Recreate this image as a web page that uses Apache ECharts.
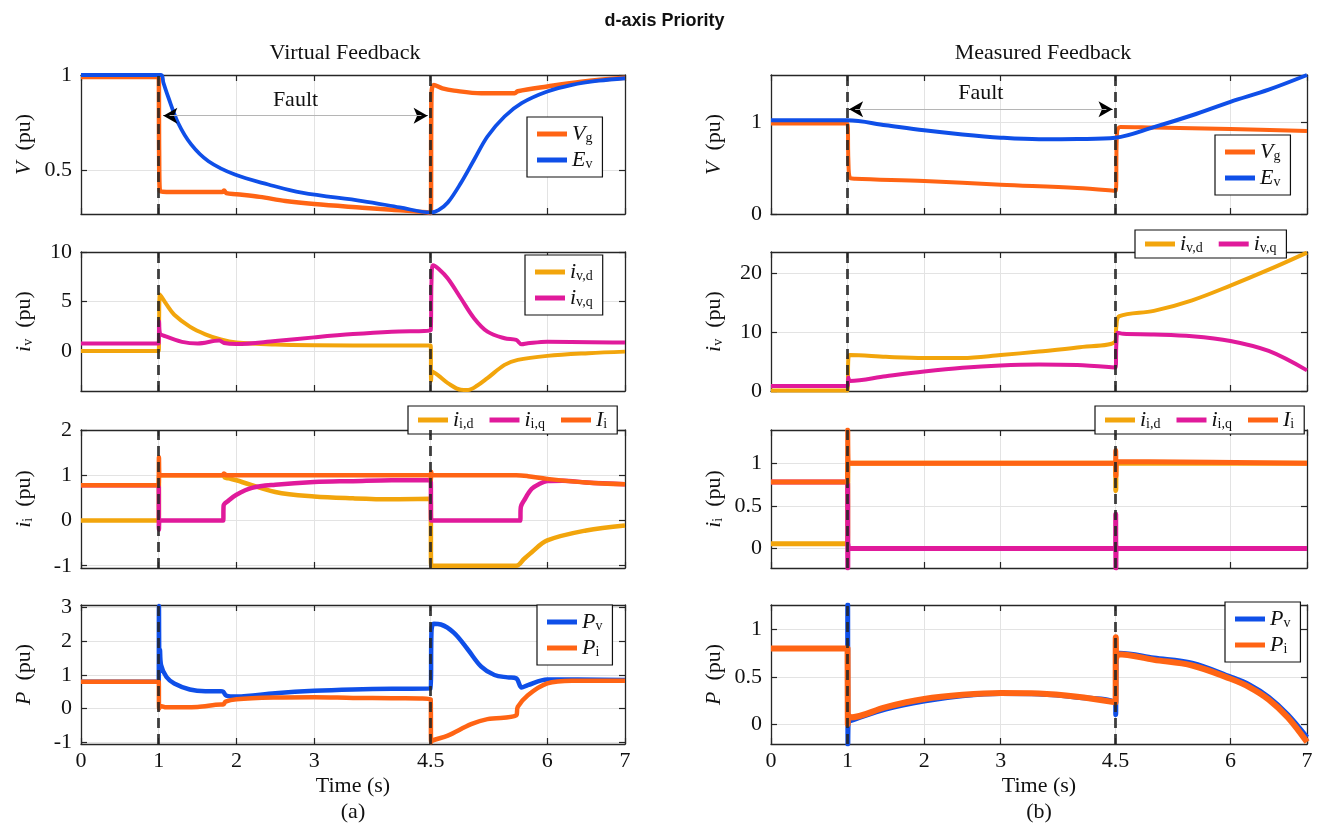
<!DOCTYPE html>
<html><head><meta charset="utf-8">
<script src="https://cdn.jsdelivr.net/npm/echarts@6/dist/echarts.min.js"></script>
<style>html,body{margin:0;padding:0;background:#fff}#c{width:1329px;height:833px}</style>
</head><body><div id="c"></div>
<script>
// ---------- tick labels ----------
const xTicks = [0, 1, 2, 3, 4.5, 6, 7];
const faultTimes = [1, 4.5];

// ---------- (a) Virtual Feedback ----------
const vgA = [[0,0.99],[1,0.99],[1.005,0.6],[1.015,0.39],[1.1,0.386],[1.82,0.386],[1.84,0.394],[1.87,0.38],[2,0.374],[2.3,0.36],[2.63,0.338],[3,0.322],[3.62,0.303],[4,0.292],[4.45,0.279],[4.5,0.275],[4.51,0.9],[4.54,0.948],[4.65,0.93],[4.8,0.918],[5.15,0.904],[5.58,0.904],[5.62,0.915],[6,0.94],[6.44,0.965],[7,0.985]];
const evA = [[0,1],[1.03,1],[1.06,0.96],[1.12,0.887],[1.25,0.748],[1.42,0.634],[1.64,0.547],[1.98,0.477],[2.41,0.425],[2.84,0.382],[3.62,0.338],[4.1,0.305],[4.5,0.278],[4.6,0.29],[4.72,0.33],[4.89,0.434],[5.06,0.556],[5.23,0.677],[5.45,0.782],[5.67,0.852],[6,0.913],[6.32,0.948],[6.66,0.97],[7,0.983]];
const ivdA = [[0,0],[1,0],[1.005,3],[1.015,5.7],[1.1,4.7],[1.2,3.66],[1.4,2.46],[1.6,1.68],[1.8,1.16],[2,0.86],[2.5,0.65],[3,0.58],[4,0.55],[4.5,0.55],[4.505,-3],[4.52,-2.08],[4.6,-2.5],[4.72,-3.25],[4.89,-3.93],[4.98,-3.95],[5.1,-3.5],[5.23,-2.75],[5.45,-1.41],[5.62,-0.9],[6,-0.5],[6.53,-0.23],[7,-0.07]];
const ivqA = [[0,0.75],[1,0.75],[1.005,3],[1.015,1.8],[1.1,1.44],[1.3,0.92],[1.5,0.75],[1.78,1.05],[1.84,0.8],[2,0.7],[2.5,1.0],[3,1.37],[3.5,1.7],[4,1.95],[4.5,2.1],[4.51,7],[4.53,8.66],[4.6,8.3],[4.72,7.32],[4.89,5.3],[5.06,3.29],[5.23,1.95],[5.45,1.28],[5.6,1.11],[5.67,0.67],[5.75,0.77],[6,0.94],[7,0.84]];
const iidA = [[0,0],[1,0],[1.005,1.0],[1.83,1.0],[1.85,0.95],[1.9,0.93],[2,0.89],[2.5,0.63],[3,0.53],[3.5,0.49],[4,0.47],[4.5,0.48],[4.505,-1.0],[5.6,-1.0],[5.7,-0.85],[5.8,-0.7],[6,-0.44],[6.5,-0.22],[7,-0.11]];
const iiqA = [[0,0.78],[1,0.78],[1.003,-0.2],[1.01,0],[1.83,0],[1.835,0.33],[1.9,0.44],[2,0.57],[2.2,0.72],[2.5,0.79],[3,0.85],[3.5,0.87],[4,0.89],[4.5,0.89],[4.505,0],[5.65,0],[5.66,0.3],[5.7,0.44],[5.8,0.7],[5.9,0.81],[6,0.87],[6.2,0.88],[6.5,0.84],[7,0.8]];
const IiA = [[0,0.78],[1,0.78],[1.003,1.4],[1.01,1.0],[1.82,1.0],[1.84,1.04],[1.87,1.0],[4.5,1.0],[4.503,0.9],[4.506,1.08],[4.52,1.0],[5.6,1.0],[5.75,0.98],[6,0.92],[6.5,0.84],[7,0.8]];
const pvA = [[0,0.8],[1,0.8],[1.003,3.05],[1.008,1.6],[1.015,1.75],[1.03,1.3],[1.1,0.94],[1.2,0.75],[1.4,0.57],[1.6,0.52],[1.8,0.52],[1.83,0.5],[1.87,0.39],[2,0.36],[2.5,0.46],[3,0.53],[3.5,0.57],[4,0.59],[4.5,0.6],[4.51,2.3],[4.54,2.52],[4.63,2.5],[4.8,2.25],[4.98,1.75],[5.15,1.25],[5.32,1.0],[5.49,0.93],[5.6,0.9],[5.67,0.63],[5.75,0.7],[6,0.87],[7,0.85]];
const piA = [[0,0.8],[1,0.8],[1.005,0.0],[1.02,0.08],[1.1,0.04],[1.5,0.05],[1.8,0.12],[1.83,0.12],[1.86,0.21],[2,0.28],[2.5,0.33],[3,0.34],[3.5,0.32],[4,0.31],[4.5,0.28],[4.505,-1.0],[4.52,-0.95],[4.72,-0.8],[5.02,-0.46],[5.23,-0.31],[5.6,-0.2],[5.62,0.05],[5.75,0.4],[6,0.75],[6.32,0.83],[7,0.83]];

// ---------- (b) Measured Feedback ----------
const vgB = [[0,0.99],[1,0.99],[1.01,0.6],[1.03,0.395],[1.1,0.385],[2,0.36],[3,0.32],[4,0.285],[4.5,0.255],[4.52,0.9],[4.56,0.952],[5,0.945],[6,0.93],[7,0.908]];
const evB = [[0,1.025],[1,1.025],[1.5,0.97],[2,0.915],[2.5,0.87],[3,0.835],[3.5,0.817],[4,0.82],[4.5,0.835],[5,0.95],[5.5,1.08],[6,1.227],[6.5,1.36],[7,1.52]];
const ivdB = [[0,0.1],[1,0.1],[1.01,5.5],[1.03,6.1],[1.5,5.8],[2,5.6],[2.5,5.6],[3,6.1],[3.5,6.7],[4,7.4],[4.5,8.5],[4.51,11],[4.55,12.7],[5,13.6],[5.5,15.4],[6,17.9],[6.5,20.6],[7,23.5]];
const ivqB = [[0,0.85],[1,0.85],[1.01,2.3],[1.03,1.7],[1.5,2.5],[2,3.3],[2.5,3.95],[3,4.35],[3.5,4.5],[4,4.4],[4.5,4.0],[4.51,8],[4.53,9.9],[4.6,9.7],[5,9.6],[5.5,9.3],[6,8.5],[6.5,6.8],[7,3.5]];
const iidB = [[0,0.055],[1,0.055],[1.005,1.0],[4.5,1.0],[4.503,0.68],[4.51,1.0],[7,1.0]];
const iiqB = [[0,0.78],[1,0.78],[1.003,-0.23],[1.006,0.05],[1.02,0],[4.5,0],[4.502,0.4],[4.504,-0.23],[4.51,0.02],[4.52,0],[7,0]];
const IiB = [[0,0.78],[1,0.78],[1.002,1.39],[1.01,1.0],[4.5,1.0],[4.502,1.15],[4.505,0.85],[4.51,1.02],[7,1.0]];
const pvB = [[0,0.8],[1,0.8],[1.002,1.26],[1.004,-0.21],[1.01,0.03],[1.05,0.04],[1.5,0.16],[2,0.245],[2.5,0.3],[3,0.325],[3.5,0.32],[4,0.285],[4.5,0.22],[4.502,0.1],[4.51,0.74],[4.55,0.75],[5,0.7],[5.5,0.645],[6,0.5],[6.25,0.415],[6.5,0.285],[6.75,0.1],[7,-0.14]];
const piB = [[0,0.8],[1,0.8],[1.003,0.0],[1.01,0.1],[1.03,0.07],[1.5,0.18],[2,0.265],[2.5,0.31],[3,0.33],[3.5,0.325],[4,0.29],[4.5,0.23],[4.503,0.92],[4.51,0.7],[4.53,0.74],[5,0.68],[5.5,0.62],[6,0.48],[6.25,0.39],[6.5,0.26],[6.75,0.07],[7,-0.19]];

// fault annotation positions (data coords)
const faultArrowA = {y: 0.786, x0: 1.06, x1: 4.46};
const faultArrowB = {y: 1.146, x0: 1.02, x1: 4.46};

// ---------- styling ----------
const ORANGE = '#FF6414', BLUE = '#0F4FE8', GOLD = '#F2A50C', MAG = '#E01A9B';
const SERIF = 'Liberation Serif';
const AX = '#262626', GRID = '#e3e3e3';
const cols = [[81, 544], [771, 536]];
const rows = [[75, 139], [252, 139], [430, 138], [605, 139]];

const labelMap = {
  vgA:'{i|V}{s|g}', evA:'{i|E}{s|v}', vgB:'{i|V}{s|g}', evB:'{i|E}{s|v}',
  ivdA:'{i|i}{s|v,d}', ivqA:'{i|i}{s|v,q}', ivdB:'{i|i}{s|v,d}', ivqB:'{i|i}{s|v,q}',
  iidA:'{i|i}{s|i,d}', iiqA:'{i|i}{s|i,q}', IiA:'{i|I}{s|i}', iidB:'{i|i}{s|i,d}', iiqB:'{i|i}{s|i,q}', IiB:'{i|I}{s|i}',
  pvA:'{i|P}{s|v}', piA:'{i|P}{s|i}', pvB:'{i|P}{s|v}', piB:'{i|P}{s|i}'
};

const panels = [
  {row:0,col:0,min:0.27,max:1.0,yt:[0.5,1],yn:'{i|V}  (pu)',ser:[['vgA',vgA,ORANGE,4.5],['evA',evA,BLUE,3.8]],lg:{left:527,top:117,orient:'vertical'},fault:faultArrowA},
  {row:1,col:0,min:-4.05,max:10,yt:[0,5,10],yn:'{i|i}{s|v}  (pu)',ser:[['ivdA',ivdA,GOLD,4],['ivqA',ivqA,MAG,4]],lg:{left:525,top:255,orient:'vertical'}},
  {row:2,col:0,min:-1.05,max:2,yt:[-1,0,1,2],yn:'{i|i}{s|i}  (pu)',ser:[['iidA',iidA,GOLD,4.5],['iiqA',iiqA,MAG,4.5],['IiA',IiA,ORANGE,4.5]],lg:{left:408,top:406,orient:'horizontal'}},
  {row:3,col:0,min:-1.05,max:3.08,yt:[-1,0,1,2,3],yn:'{i|P}  (pu)',ser:[['pvA',pvA,BLUE,4.5],['piA',piA,ORANGE,4.5]],lg:{left:537,top:605,orient:'vertical'}},
  {row:0,col:1,min:0,max:1.52,yt:[0,1],yn:'{i|V}  (pu)',ser:[['vgB',vgB,ORANGE,4],['evB',evB,BLUE,4]],lg:{left:1215,top:135,orient:'vertical'},fault:faultArrowB},
  {row:1,col:1,min:0,max:23.6,yt:[0,10,20],yn:'{i|i}{s|v}  (pu)',ser:[['ivdB',ivdB,GOLD,4],['ivqB',ivqB,MAG,4]],lg:{left:1135,top:230,orient:'horizontal'}},
  {row:2,col:1,min:-0.23,max:1.39,yt:[0,0.5,1],yn:'{i|i}{s|i}  (pu)',ser:[['iidB',iidB,GOLD,5],['iiqB',iiqB,MAG,5],['IiB',IiB,ORANGE,5]],lg:{left:1095,top:406,orient:'horizontal'}},
  {row:3,col:1,min:-0.21,max:1.26,yt:[0,0.5,1],yn:'{i|P}  (pu)',ser:[['pvB',pvB,BLUE,5],['piB',piB,ORANGE,6]],lg:{left:1225,top:602,orient:'vertical'}}
];

// Duplicate points at sharp corners so that curve smoothing keeps steps crisp.
function sharpen(data, ymin, ymax, wpx, hpx) {
  const out = [];
  const px = p => [p[0] / 7 * wpx, (p[1] - ymin) / (ymax - ymin) * hpx];
  for (let i = 0; i < data.length; i++) {
    out.push(data[i]);
    if (i === 0 || i === data.length - 1) continue;
    const a = px(data[i - 1]), b = px(data[i]), c = px(data[i + 1]);
    const v1 = [b[0] - a[0], b[1] - a[1]], v2 = [c[0] - b[0], c[1] - b[1]];
    const n1 = Math.hypot(v1[0], v1[1]), n2 = Math.hypot(v2[0], v2[1]);
    if (n1 === 0 || n2 === 0) continue;
    const cos = (v1[0] * v2[0] + v1[1] * v2[1]) / (n1 * n2);
    if (cos < Math.cos(40 * Math.PI / 180)) out.push(data[i]);
  }
  return out;
}

const richText = {
  i: {fontFamily: SERIF, fontStyle: 'italic', fontSize: 22, color: '#111'},
  s: {fontFamily: SERIF, fontSize: 14, color: '#111', verticalAlign: 'bottom', lineHeight: 8}
};

const option = {
  animation: false,
  backgroundColor: '#fff',
  title: [
    {text: 'd-axis Priority', left: 'center', top: 7, textStyle: {fontFamily: 'Liberation Sans', fontWeight: 'bold', fontSize: 18, color: '#111'}},
    {text: 'Virtual Feedback', left: 340, textAlign: 'center', top: 37, textStyle: {fontFamily: SERIF, fontWeight: 'normal', fontSize: 22, color: '#111'}},
    {text: 'Measured Feedback', left: 1038, textAlign: 'center', top: 37, textStyle: {fontFamily: SERIF, fontWeight: 'normal', fontSize: 22, color: '#111'}}
  ],
  grid: [], xAxis: [], yAxis: [], legend: [], series: []
};

panels.forEach((p, gi) => {
  const bottom = p.row === 3;
  option.grid.push({left: cols[p.col][0], width: cols[p.col][1], top: rows[p.row][0], height: rows[p.row][1]});
  const axLine = {show: true, onZero: false, lineStyle: {color: AX, width: 1.3}};
  const tick = (vals) => ({show: true, inside: true, length: 6, customValues: vals, lineStyle: {color: AX, width: 1.2}});
  option.xAxis.push({
    type: 'value', gridIndex: gi, min: 0, max: 7, position: 'bottom',
    axisLine: axLine, axisTick: tick(xTicks),
    axisLabel: {show: bottom, customValues: xTicks, fontFamily: SERIF, fontSize: 22, color: '#111', margin: 6},
    splitLine: {show: true, lineStyle: {color: GRID, width: 1}},
    name: bottom ? 'Time (s)\n' + (p.col === 0 ? '(a)' : '(b)') : '',
    nameLocation: 'middle', nameGap: 29,
    nameTextStyle: {fontFamily: SERIF, fontSize: 22, color: '#111', lineHeight: 26}
  });
  option.xAxis.push({
    type: 'value', gridIndex: gi, min: 0, max: 7, position: 'top',
    axisLine: axLine, axisTick: tick(xTicks), axisLabel: {show: false, customValues: xTicks}, splitLine: {show: false}
  });
  option.yAxis.push({
    type: 'value', gridIndex: gi, min: p.min, max: p.max, position: 'left',
    axisLine: axLine, axisTick: tick(p.yt),
    axisLabel: {customValues: p.yt, fontFamily: SERIF, fontSize: 22, color: '#111', margin: 9},
    splitLine: {show: true, lineStyle: {color: GRID, width: 1}},
    name: p.yn, nameLocation: 'middle', nameRotate: 90, nameGap: 46,
    nameTextStyle: {fontFamily: SERIF, fontSize: 22, color: '#111', rich: richText}
  });
  option.yAxis.push({
    type: 'value', gridIndex: gi, min: p.min, max: p.max, position: 'right',
    axisLine: axLine, axisTick: tick(p.yt), axisLabel: {show: false, customValues: p.yt}, splitLine: {show: false}
  });
  const xi = gi * 2, yi = gi * 2;
  p.ser.forEach((s, k) => {
    const ser = {
      type: 'line', name: s[0],
      data: sharpen(s[1], p.min, p.max, cols[p.col][1], rows[p.row][1]),
      xAxisIndex: xi, yAxisIndex: yi,
      showSymbol: false, symbol: 'none', smooth: 0.35, clip: true,
      itemStyle: {color: s[2]}, lineStyle: {color: s[2], width: s[3], join: 'round', cap: 'butt'},
      emphasis: {disabled: true}, silent: true
    };
    if (k === p.ser.length - 1) {
      const mdata = faultTimes.map(t => ({xAxis: t}));
      if (p.fault) {
        const f = p.fault;
        const arrowStyle = {color: '#000', width: 1, type: 'solid'};
        mdata.push([{coord: [f.x0 + 0.1, f.y], symbol: 'none', lineStyle: arrowStyle}, {coord: [f.x0, f.y], symbol: 'arrow', symbolSize: [12, 14]}]);
        mdata.push([{coord: [f.x1 - 0.1, f.y], symbol: 'none', lineStyle: arrowStyle}, {coord: [f.x1, f.y], symbol: 'arrow', symbolSize: [12, 14]}]);
        mdata.push([{coord: [f.x0 + 0.08, f.y], symbol: 'none',
          lineStyle: {color: '#b5b5b5', width: 1, type: 'solid'},
          label: {show: true, position: 'middle', formatter: 'Fault', fontFamily: SERIF, fontSize: 22, color: '#111', distance: 5}},
          {coord: [f.x1 - 0.08, f.y], symbol: 'none'}]);
      }
      ser.markLine = {
        silent: true, animation: false, symbol: 'none', z: 10,
        label: {show: false},
        lineStyle: {color: 'rgba(38,38,38,0.88)', width: 2.8, type: [10, 6]},
        emphasis: {disabled: true},
        data: mdata
      };
    }
    option.series.push(ser);
  });
  option.legend.push({
    left: p.lg.left, top: p.lg.top, orient: p.lg.orient,
    data: p.ser.map(s => s[0]),
    icon: 'rect', itemWidth: 30, itemHeight: 5, itemGap: p.lg.orient === 'vertical' ? 4 : 16,
    padding: p.lg.orient === 'vertical' ? [6, 10, 6, 10] : [3, 10, 3, 10],
    backgroundColor: '#fff', borderColor: '#111', borderWidth: 1.2, borderRadius: 0,
    selectedMode: false,
    formatter: n => labelMap[n],
    textStyle: {fontFamily: SERIF, fontSize: 22, color: '#111', rich: richText}
  });
});

const chart = echarts.init(document.getElementById('c'), null, {renderer: 'canvas'});
chart.setOption(option);
</script>
</body></html>
